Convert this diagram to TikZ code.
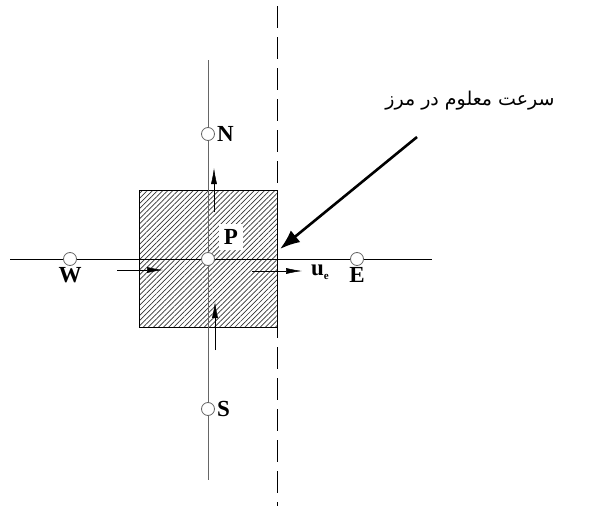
\documentclass[tikz,border=0pt]{standalone}
\usepackage{fontspec}
\usetikzlibrary{positioning,arrows.meta,patterns.meta}
\newfontfamily\farsifont[Script=Arabic]{DejaVu Sans}
\newfontfamily\ptfont{Liberation Serif}
\TeXXeTstate=1

\begin{document}
\begin{tikzpicture}[
x=1pt, y=-1pt, >=Latex,
grid/.style={circle, draw=black!60, fill=white, line width=0.8pt, inner sep=0pt, minimum size=13pt},
lbl/.style={font=\ptfont\fontsize{23}{25}\selectfont\bfseries, inner sep=1pt},
axis/.style={line width=0.8pt},
flux/.style={-{Latex[length=16pt,width=6pt]}, line width=0.5pt},
pointer/.style={-{Latex[length=20pt,width=15pt]}, line width=2.6pt}
]
\useasboundingbox (0,0) rectangle (603,506);
% control volume
\fill[pattern={Lines[angle=45,distance=3.6pt,line width=0.7pt]}, pattern color=black!80] (139,190) rectangle (277,327);
\draw[line width=0.9pt] (139,190) rectangle (277,327);
% boundary
\coordinate (btop) at (277,6);
\coordinate (bbot) at (277,506);
\draw[line width=0.9pt, dash pattern=on 22pt off 9pt] (btop) -- (bbot);
% grid points
\node[grid] (P) at (208,259) {};
\node[grid] (N) at (208,134) {};
\node[grid] (S) at (208,409) {};
\node[grid] (W) at (70,259) {};
\node[grid] (E) at (357,259) {};
\coordinate (wend) at (10,259);
\coordinate (eend) at (432,259);
\coordinate (nend) at (208,60);
\coordinate (send) at (208,480);
\draw[axis] (wend) -- (W);
\draw[axis] (W) -- (P);
\draw[axis] (P) -- (E);
\draw[axis] (E) -- (eend);
\draw[axis, black!60] (nend) -- (N);
\draw[axis, black!60] (N) -- (P);
\draw[axis, black!60] (P) -- (S);
\draw[axis, black!60] (S) -- (send);
% labels
\node[lbl, right=1pt of N] (Nl) {N};
\node[lbl, right=1pt of S] (Sl) {S};
\node[lbl, below=0pt of W] (Wl) {W};
\node[lbl, below=0pt of E] (El) {E};
\node[lbl, fill=white, inner sep=5pt] (Pl) at (231,237) {P};
\node[lbl, anchor=west] (ue) at (310,272) {u\raisebox{-4pt}{\fontsize{11}{12}\selectfont e}};
% face velocities
\coordinate (uw0) at (117,270);
\coordinate (uw1) at (163,270);
\coordinate (ue0) at (252,271);
\coordinate (ue1) at (302,271);
\coordinate (vn0) at (214,212);
\coordinate (vn1) at (214,168);
\coordinate (vs0) at (215,350);
\coordinate (vs1) at (215,302);
\draw[flux] (uw0) -- (uw1);
\draw[flux] (ue0) -- (ue1);
\draw[flux] (vn0) -- (vn1);
\draw[flux] (vs0) -- (vs1);
% note
\node (note) at (470,101) {\farsifont\fontsize{19}{22}\selectfont\beginR سرعت معلوم در مرز\endR};
\coordinate (tail) at (417,137);
\coordinate (face) at (280,249);
\draw[pointer] (tail) -- (face);
\end{tikzpicture}
\end{document}
